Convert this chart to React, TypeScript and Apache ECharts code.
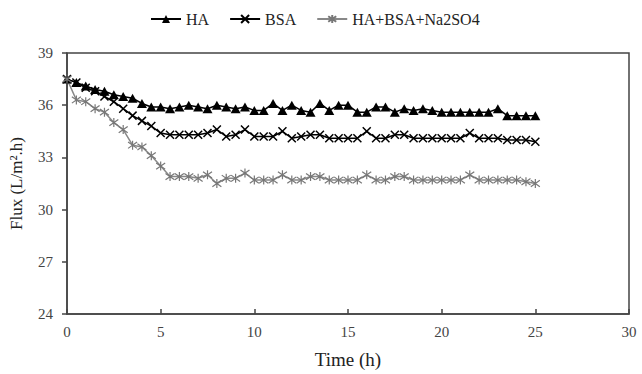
import React, { useEffect, useRef } from "react";
import * as echarts from "echarts";

const times: number[] = Array.from({ length: 51 }, (_, i) => i * 0.5);

const haValues: number[] = [
  37.5, 37.3, 37.1, 36.9, 36.8, 36.6, 36.5, 36.4, 36.1, 35.9,
  35.9, 35.8, 35.9, 36.0, 35.9, 35.8, 36.0, 35.9, 35.8, 35.9,
  35.7, 35.7, 36.1, 35.7, 36.0, 35.7, 35.6, 36.1, 35.7, 36.0,
  36.0, 35.6, 35.6, 35.9, 35.9, 35.6, 35.8, 35.7, 35.8, 35.7,
  35.6, 35.6, 35.6, 35.6, 35.6, 35.6, 35.8, 35.4, 35.4, 35.4,
  35.4,
];

const bsaValues: number[] = [
  37.5, 37.3, 37.0, 36.8, 36.5, 36.2, 35.8, 35.4, 35.1, 34.8,
  34.4, 34.3, 34.3, 34.3, 34.3, 34.4, 34.6, 34.2, 34.3, 34.6,
  34.2, 34.2, 34.2, 34.5, 34.1, 34.2, 34.3, 34.3, 34.1, 34.1,
  34.1, 34.1, 34.5, 34.1, 34.1, 34.3, 34.3, 34.1, 34.1, 34.1,
  34.1, 34.1, 34.1, 34.4, 34.1, 34.1, 34.1, 34.0, 34.0, 34.0,
  33.9,
];

const mixValues: number[] = [
  37.5, 36.3, 36.2, 35.8, 35.6, 35.0, 34.6, 33.7, 33.6, 33.1,
  32.5, 31.9, 31.9, 31.9, 31.8, 32.0, 31.5, 31.8, 31.8, 32.1,
  31.7, 31.7, 31.7, 32.0, 31.7, 31.7, 31.9, 31.9, 31.7, 31.7,
  31.7, 31.7, 32.0, 31.7, 31.7, 31.9, 31.9, 31.7, 31.7, 31.7,
  31.7, 31.7, 31.7, 32.0, 31.7, 31.7, 31.7, 31.7, 31.7, 31.6,
  31.5,
];

const seriesNames: string[] = ["HA", "BSA", "HA+BSA+Na2SO4"];
const xTicks = { min: 0, max: 30, interval: 5 };
const yTicks = { min: 24, max: 39, interval: 3 };

const FONT = "'Liberation Serif', 'Times New Roman', serif";
const X_PATH = "path://M0,0L10,10M10,0L0,10";
const STAR_PATH = "path://M5,0L5,10M0,1.5L10,8.5M10,1.5L0,8.5";

export default function App() {
  const ref = useRef<HTMLDivElement>(null);
  useEffect(() => {
    if (!ref.current) return;
    const chart = echarts.init(ref.current, undefined, { renderer: "svg" });
    const pair = (vals: number[]) => times.map((t, i) => [t, vals[i]]);
    chart.setOption({
      animation: false,
      backgroundColor: "#fff",
      legend: {
        top: 6,
        left: 145,
        itemWidth: 30,
        itemHeight: 10,
        itemGap: 20,
        textStyle: { fontFamily: FONT, fontSize: 16, color: "#222" },
        data: seriesNames,
      },
      grid: {
        left: 66,
        right: 13,
        top: 53,
        bottom: 56,
        show: true,
        borderColor: "#444",
        borderWidth: 1.5,
      },
      xAxis: {
        type: "value",
        min: xTicks.min,
        max: xTicks.max,
        interval: xTicks.interval,
        name: "Time (h)",
        nameLocation: "middle",
        nameGap: 36,
        nameTextStyle: { fontFamily: FONT, fontSize: 19, color: "#222" },
        axisLine: { lineStyle: { color: "#444", width: 1.5 } },
        axisTick: { inside: true, length: 5, lineStyle: { color: "#444", width: 1.5 } },
        axisLabel: { fontFamily: FONT, fontSize: 15, color: "#444", margin: 10 },
        splitLine: { show: false },
      },
      yAxis: {
        type: "value",
        min: yTicks.min,
        max: yTicks.max,
        interval: yTicks.interval,
        name: "Flux (L/m².h)",
        nameLocation: "middle",
        nameGap: 42,
        nameTextStyle: { fontFamily: FONT, fontSize: 17, color: "#222" },
        axisLine: { lineStyle: { color: "#444", width: 1.5 } },
        axisTick: { inside: false, length: 5, lineStyle: { color: "#444", width: 1.5 } },
        axisLabel: { fontFamily: FONT, fontSize: 15, color: "#444", margin: 14 },
        splitLine: { show: false },
      },
      series: [
        {
          name: seriesNames[0],
          type: "line",
          data: pair(haValues),
          symbol: "triangle",
          symbolSize: [10, 9],
          lineStyle: { color: "#000", width: 1.5 },
          itemStyle: { color: "#000" },
        },
        {
          name: seriesNames[1],
          type: "line",
          data: pair(bsaValues),
          symbol: X_PATH,
          symbolSize: 8,
          lineStyle: { color: "#000", width: 1.5 },
          itemStyle: { color: "#000", borderColor: "#000", borderWidth: 1.5 },
        },
        {
          name: seriesNames[2],
          type: "line",
          data: pair(mixValues),
          symbol: STAR_PATH,
          symbolSize: 9,
          lineStyle: { color: "#888", width: 1.5 },
          itemStyle: { color: "#777", borderColor: "#777", borderWidth: 1.2 },
        },
      ],
    });
    return () => chart.dispose();
  }, []);
  return (
    <div
      ref={ref}
      style={{ position: "fixed", left: 0, top: 0, width: 642, height: 374 }}
    />
  );
}
